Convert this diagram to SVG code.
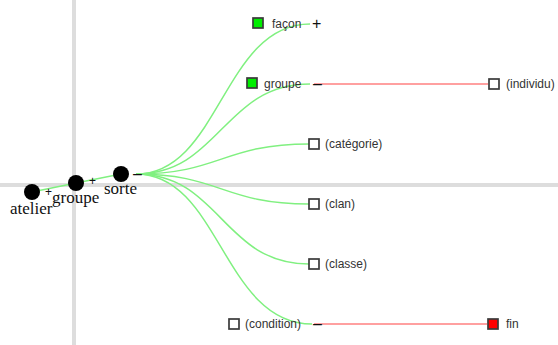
<svg xmlns="http://www.w3.org/2000/svg" width="558" height="345" viewBox="0 0 558 345">
<style>
.axis{stroke:#dddddd;stroke-width:4;fill:none}
.lk{stroke:#80f080;stroke-width:1.5;fill:none}
.rl{stroke:#ffa0a0;stroke-width:2;fill:none}
.pv{fill:#000}
.pl{font-family:"Liberation Serif",serif;font-size:17px;fill:#111}
.sg{font-family:"Liberation Sans",sans-serif;fill:#111}
.bx{stroke:#3a3a3a;stroke-width:1.7;fill:#fff}
.on{fill:#00ee00}
.end{fill:#ff0000}
.lb{font-family:"Liberation Sans",sans-serif;font-size:12px;fill:#333}
</style>
<rect width="558" height="345" fill="#fff"/>
<g id="axes">
<line class="axis" x1="74" y1="0" x2="74" y2="345"/>
<line class="axis" x1="0" y1="185" x2="558" y2="185"/>
</g>
<g id="connectors">
<line class="lk" x1="32" y1="192" x2="76" y2="183"/>
<line class="lk" x1="76" y1="183" x2="121" y2="174"/>
<path class="lk" d="M136,174 C220,174 223,24 310,24"/>
<path class="lk" d="M136,174 C220,174 223,84 310,84"/>
<path class="lk" d="M136,174 C220,174 223,144 309,144"/>
<path class="lk" d="M136,174 C220,174 223,204 309,204"/>
<path class="lk" d="M136,174 C220,174 223,264 309,264"/>
<path class="lk" d="M136,174 C220,174 223,324 312,324"/>
<line class="rl" x1="314" y1="84" x2="488" y2="84"/>
<line class="rl" x1="314" y1="324" x2="487" y2="324"/>
</g>
<g id="node-atelier">
<circle class="pv" cx="32" cy="192" r="8"/>
<text class="sg" x="45" y="196" font-size="12">+</text>
<text class="pl" x="10" y="214">atelier</text>
</g>
<g id="node-groupe-pivot">
<circle class="pv" cx="76" cy="183" r="8"/>
<text class="sg" x="89" y="185" font-size="12">+</text>
<text class="pl" x="52" y="203">groupe</text>
</g>
<g id="node-sorte">
<circle class="pv" cx="121" cy="174" r="8"/>
<text class="sg" x="133" y="179" font-size="16">–</text>
<text class="pl" x="104" y="194">sorte</text>
</g>
<g id="node-facon">
<rect class="bx on" x="253" y="18" width="10" height="10"/>
<text class="lb" x="272" y="28">façon</text>
<text class="sg" x="312" y="29" font-size="16">+</text>
</g>
<g id="node-groupe">
<rect class="bx on" x="247" y="78" width="10" height="10"/>
<text class="lb" x="264" y="88">groupe</text>
<text class="sg" x="313" y="89" font-size="16">–</text>
</g>
<g id="node-individu">
<rect class="bx" x="489" y="79" width="10" height="10"/>
<text class="lb" x="506" y="88">(individu)</text>
</g>
<g id="node-categorie">
<rect class="bx" x="309" y="139" width="10" height="10"/>
<text class="lb" x="325" y="148">(catégorie)</text>
</g>
<g id="node-clan">
<rect class="bx" x="309" y="199" width="10" height="10"/>
<text class="lb" x="325" y="208">(clan)</text>
</g>
<g id="node-classe">
<rect class="bx" x="309" y="259" width="10" height="10"/>
<text class="lb" x="325" y="268">(classe)</text>
</g>
<g id="node-condition">
<rect class="bx" x="229" y="319" width="10" height="10"/>
<text class="lb" x="245" y="328">(condition)</text>
<text class="sg" x="313" y="329" font-size="16">–</text>
</g>
<g id="node-fin">
<rect class="bx end" x="488" y="319" width="10" height="10"/>
<text class="lb" x="506" y="328">fin</text>
</g>
</svg>
